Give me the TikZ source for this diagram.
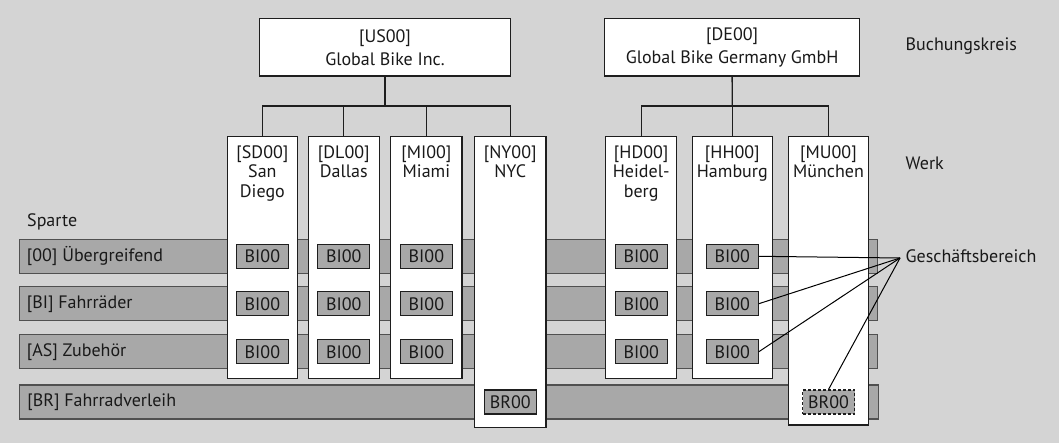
\documentclass[tikz,border=0pt]{standalone}
\usepackage{fontspec}
\setmainfont{PT Sans}
\definecolor{bggray}{RGB}{212,212,212}
\definecolor{bargray}{RGB}{168,168,168}
\definecolor{barline}{RGB}{80,80,80}
\definecolor{boxline}{RGB}{30,30,30}
\begin{document}
\begin{tikzpicture}[x=1pt,y=-1pt,
  txt/.style={font=\fontsize{18}{19.6}\selectfont, text=black!90, inner sep=0pt},
  company/.style={draw=boxline, fill=white, line width=1.2pt, inner sep=0pt,
    align=center, text=black!90, font=\fontsize{18}{23}\selectfont},
  plant/.style={draw=boxline, fill=white, line width=1.2pt, inner sep=0pt},
  planttext/.style={txt, anchor=north, align=center},
  divbar/.style={draw=barline, fill=bargray, line width=1.2pt, inner sep=0pt,
    minimum width=858.4pt, minimum height=34pt},
  area/.style={draw=boxline, fill=bargray, line width=1.1pt, inner sep=0pt,
    minimum width=52pt, minimum height=24pt, txt},
  tree/.style={draw=boxline, line width=1.3pt},
  pointer/.style={draw=black, line width=1pt}]
\useasboundingbox (0,0) rectangle (1059,443);
\fill[bggray] (0,0) rectangle (1059,443);

% division bars (Sparte)
\node[divbar] (r1) at (448.5,256.3) {};
\node[divbar] (r2) at (448.5,303.7) {};
\node[divbar] (r3) at (448.5,351.7) {};
\node[divbar] (r4) at (449,402) {};
\node[txt, anchor=west] at ([xshift=8pt]r1.west) {[00] Übergreifend};
\node[txt, anchor=west] at ([xshift=8pt]r2.west) {[BI] Fahrräder};
\node[txt, anchor=west] at ([xshift=8pt]r3.west) {[AS] Zubehör};
\node[txt, anchor=west] at ([xshift=8pt]r4.west) {[BR] Fahrradverleih};
\node[txt, anchor=west] (sparte) at (27,222) {Sparte};

% company codes
\node[company, minimum width=251.4pt, minimum height=57.4pt] (us) at (385,47.3)
  {[US00]\\Global Bike Inc.};
\node[company, minimum width=255pt, minimum height=57.4pt] (de) at (732.1,47.3)
  {[DE00]\\Global Bike Germany GmbH};

% plants
\node[plant, minimum width=70.2pt, minimum height=241.6pt] (sd) at (262.4,257.5) {};
\node[plant, minimum width=71pt,   minimum height=241.6pt] (dl) at (343.8,257.5) {};
\node[plant, minimum width=71.3pt, minimum height=241.6pt] (mi) at (426.4,257.5) {};
\node[plant, minimum width=71.7pt, minimum height=290.5pt] (ny) at (510.2,282) {};
\node[plant, minimum width=71pt,   minimum height=241.6pt] (hd) at (641.2,257.5) {};
\node[plant, minimum width=80pt,   minimum height=241.6pt] (hh) at (732.3,257.5) {};
\node[plant, minimum width=80.4pt, minimum height=288.3pt] (mu) at (828.5,280.9) {};

\node[planttext] at ([yshift=-9pt]sd.north) {[SD00]\\San\\Diego};
\node[planttext] at ([yshift=-9pt]dl.north) {[DL00]\\Dallas};
\node[planttext] at ([yshift=-9pt]mi.north) {[MI00]\\Miami};
\node[planttext] at ([yshift=-9pt]ny.north) {[NY00]\\NYC};
\node[planttext] at ([yshift=-9pt]hd.north) {[HD00]\\Heidel-\\berg};
\node[planttext] at ([yshift=-9pt]hh.north) {[HH00]\\Hamburg};
\node[planttext] at ([yshift=-9pt]mu.north) {[MU00]\\München};

% business areas
\foreach \p in {sd,dl,mi,hd,hh}{
  \node[area] (\p1) at (\p.center |- r1.center) {BI00};
  \node[area] (\p2) at (\p.center |- r2.center) {BI00};
  \node[area] (\p3) at (\p.center |- r3.center) {BI00};
}
\node[area] (nybr) at (ny.center |- r4.center) {BR00};
\node[area, dashed, dash pattern=on 3pt off 2pt] (mubr) at (mu.center |- r4.center) {BR00};

% hierarchy lines
\coordinate (usj) at (385,106);
\coordinate (dej) at (732.3,106);
\draw[tree] (us.south) -- (usj);
\foreach \p in {sd,dl,mi,ny} \draw[tree] (usj) -| (\p.north);
\draw[tree] (de.south) -- (dej);
\foreach \p in {hd,hh,mu} \draw[tree] (dej) -| (\p.north);

% level captions
\node[txt, anchor=west] (bk) at (905.5,46) {Buchungskreis};
\node[txt, anchor=west] (werk) at (905.5,163) {Werk};
\node[txt, anchor=west] (gb) at (905.5,256) {Geschäftsbereich};
\coordinate (gbp) at (900,258);

\draw[pointer] (hh1.east) -- (gbp);
\draw[pointer] (hh2.east) -- (gbp);
\draw[pointer] (hh3.east) -- (gbp);
\draw[pointer] (mubr.north) -- (gbp);
\end{tikzpicture}
\end{document}
